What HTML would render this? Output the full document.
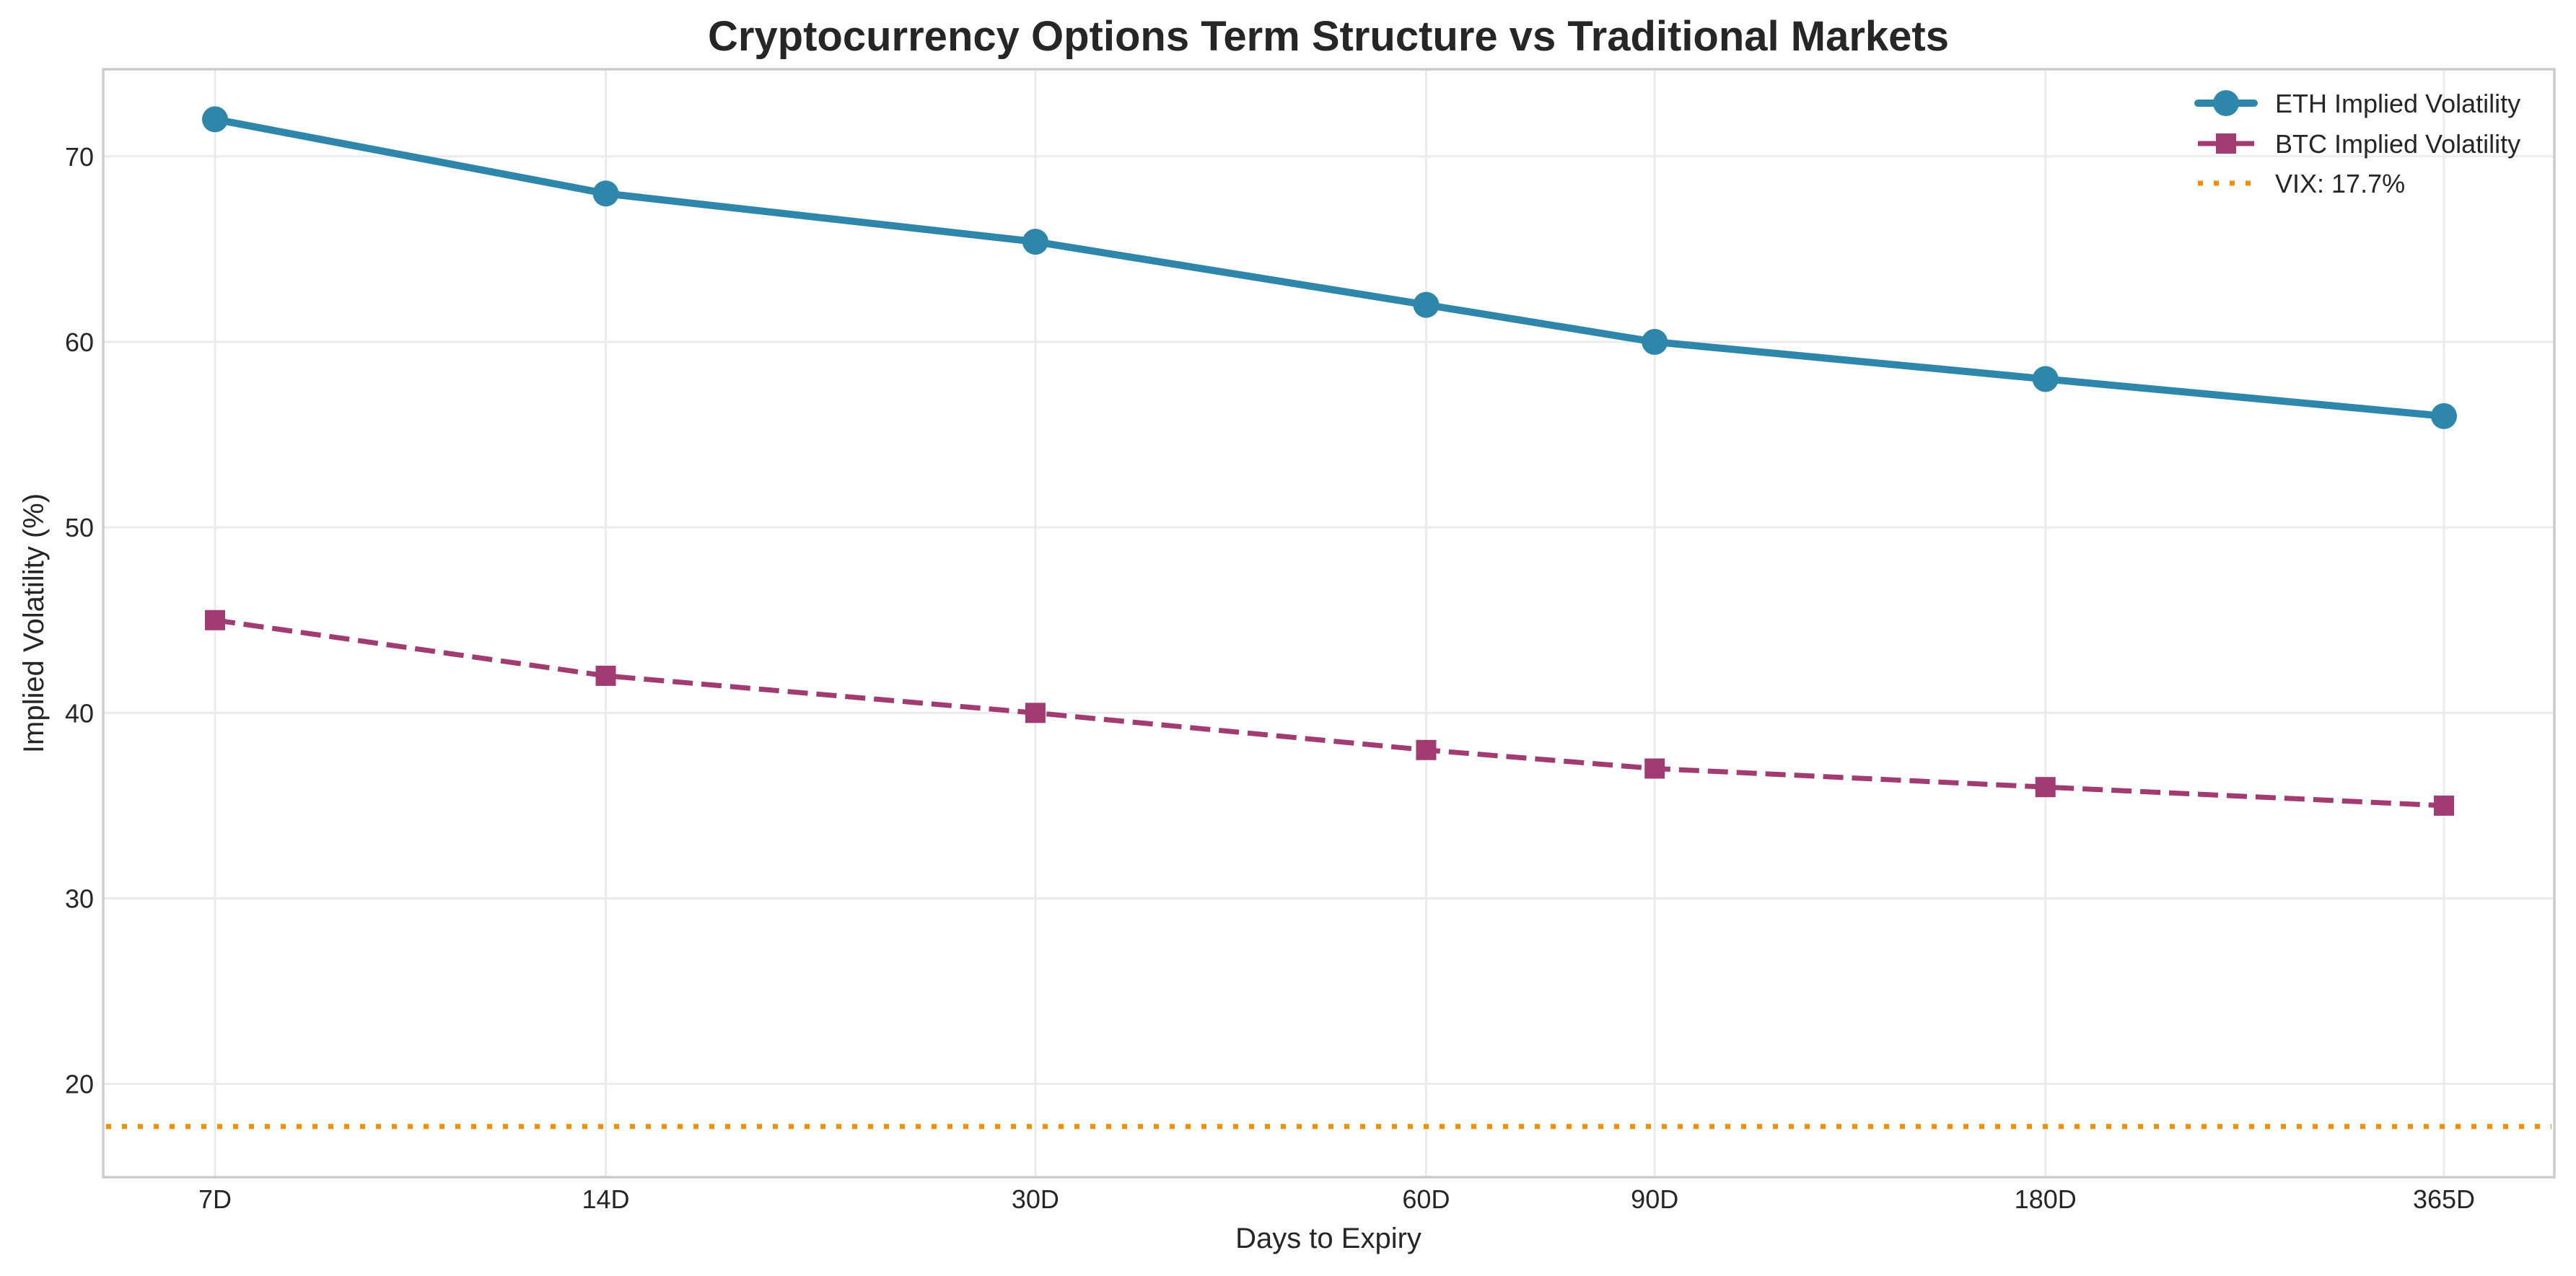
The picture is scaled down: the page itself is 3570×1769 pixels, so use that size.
<!DOCTYPE html>
<html><head><meta charset="utf-8">
<style>html,body{margin:0;padding:0;background:#fff;}svg{display:block;}text{font-family:"Liberation Sans",sans-serif;fill:#262626;}</style>
</head><body>
<svg id="chart" width="3570" height="1769" viewBox="0 0 3570 1769" xmlns="http://www.w3.org/2000/svg">
<rect width="3570" height="1769" fill="#fff"/>
<text x="1841" y="70" text-anchor="middle" font-size="58" font-weight="bold">Cryptocurrency Options Term Structure vs Traditional Markets</text>
<g id="grid"></g>
<g id="series"></g>
<rect x="143" y="96" width="3397" height="1536" fill="none" stroke="#cccccc" stroke-width="3.5"/>
<g id="ticks"></g>
<text x="1841" y="1730" text-anchor="middle" font-size="40">Days to Expiry</text>
<text transform="translate(60,864) rotate(-90)" text-anchor="middle" font-size="40">Implied Volatility (%)</text>
<g id="legend">
  <line x1="3046" y1="143" x2="3124" y2="143" stroke="#2E86AB" stroke-width="10" stroke-linecap="round"/>
  <circle cx="3085" cy="143" r="18" fill="#2E86AB"/>
  <text x="3153" y="156" font-size="36">ETH Implied Volatility</text>
  <line x1="3046" y1="199" x2="3124" y2="199" stroke="#A23B72" stroke-width="7"/>
  <rect x="3071" y="185" width="28" height="28" fill="#A23B72"/>
  <text x="3153" y="212" font-size="36">BTC Implied Volatility</text>
  <line x1="3046" y1="254" x2="3124" y2="254" stroke="#F18F01" stroke-width="7" stroke-dasharray="7,15"/>
  <text x="3153" y="267" font-size="36">VIX: 17.7%</text>
</g>
</svg>
<script>
const categories = ["7D","14D","30D","60D","90D","180D","365D"];
const days = [7,14,30,60,90,180,365];
const ethValues = [72,68,65.4,62,60,58,56];
const btcValues = [45,42,40,38,37,36,35];
const vixValue = 17.7;
const yTicks = [20,30,40,50,60,70];

const NS = "http://www.w3.org/2000/svg";
const L = 143, R = 3540, T = 96, B = 1632;
const x0 = Math.log10(7), x1 = Math.log10(365);
const ymin = 14.97, ymax = 74.70;
function xs(d){ return 298 + (Math.log10(d) - x0) / (x1 - x0) * (3387 - 298); }
function ys(v){ return B - (v - ymin) / (ymax - ymin) * (B - T); }
function mk(tag, attrs, parent){ const e = document.createElementNS(NS, tag); for (const k in attrs) e.setAttribute(k, attrs[k]); parent.appendChild(e); return e; }

const grid = document.getElementById('grid');
const ticks = document.getElementById('ticks');
const series = document.getElementById('series');

yTicks.forEach(v => {
  const y = ys(v);
  const g = mk('line', {x1:L, x2:R, y1:y, y2:y, stroke:'#ebebeb', 'stroke-width':3}, grid);
  
  
  const t = mk('text', {x:130, y:y+13, 'text-anchor':'end', 'font-size':36}, ticks);
  t.textContent = v;
  
  
});
days.forEach((d, i) => {
  const x = xs(d);
  const g = mk('line', {x1:x, x2:x, y1:T, y2:B, stroke:'#ebebeb', 'stroke-width':3}, grid);
  
  
  const t = mk('text', {x:x, y:1675, 'text-anchor':'middle', 'font-size':36}, ticks);
  t.textContent = categories[i];
  
  
});

const vy = ys(vixValue);
const vix = mk('line', {x1:L+4, x2:R-4, y1:vy, y2:vy, stroke:'#F18F01', 'stroke-width':7, 'stroke-dasharray':'7,15'}, series);



const btcPts = days.map((d,i) => xs(d)+','+ys(btcValues[i])).join(' ');
const btcLine = mk('polyline', {points:btcPts, fill:'none', stroke:'#A23B72', 'stroke-width':7, 'stroke-dasharray':'28,12'}, series);


days.forEach((d,i) => {
  const r = mk('rect', {x:xs(d)-14, y:ys(btcValues[i])-14, width:28, height:28, fill:'#A23B72'}, series);
  
  
});

const ethPts = days.map((d,i) => xs(d)+','+ys(ethValues[i])).join(' ');
const ethLine = mk('polyline', {points:ethPts, fill:'none', stroke:'#2E86AB', 'stroke-width':10, 'stroke-linejoin':'round'}, series);


days.forEach((d,i) => {
  const c = mk('circle', {cx:xs(d), cy:ys(ethValues[i]), r:18, fill:'#2E86AB'}, series);
  
  
});
</script>
</body></html>
